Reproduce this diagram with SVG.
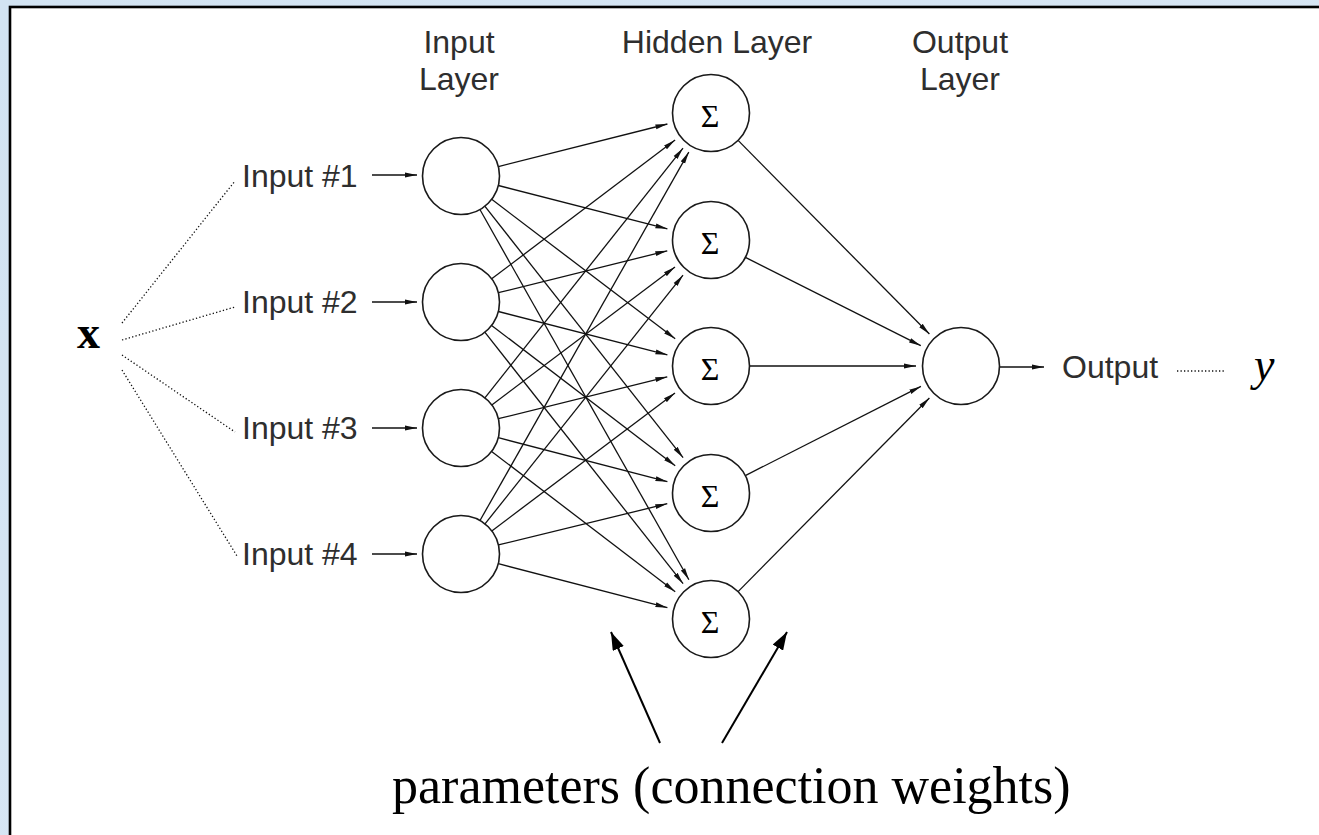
<svg xmlns="http://www.w3.org/2000/svg" width="1319" height="835" viewBox="0 0 1319 835">
  <defs>
    <linearGradient id="bg" x1="0" y1="0" x2="1" y2="1">
      <stop offset="0" stop-color="#d2e3f2"/>
      <stop offset="1" stop-color="#dbe8f5"/>
    </linearGradient>
    <!-- small arrowhead used on every network connection -->
    <marker id="tip" markerUnits="userSpaceOnUse" viewBox="0 0 12 6" markerWidth="12" markerHeight="6" refX="12" refY="3" orient="auto">
      <path d="M0,0.6 L12,3 L0,5.4 z" fill="#111"/>
    </marker>
    <!-- larger arrowhead for the callout arrows -->
    <marker id="bigtip" markerUnits="userSpaceOnUse" viewBox="0 0 18 12" markerWidth="18" markerHeight="12" refX="18" refY="6" orient="auto">
      <path d="M0,0 L18,6 L0,12 z" fill="#000"/>
    </marker>
  </defs>
  <style>
    .sans { font-family: "Liberation Sans", Arial, sans-serif; font-size: 32px; fill: #2e2e2e; }
    .serif { font-family: "Liberation Serif", "Times New Roman", serif; fill: #000; }
    .node { fill: #fff; stroke: #1a1a1a; stroke-width: 1.6; }
    .link { stroke: #111; stroke-width: 1.3; fill: none; marker-end: url(#tip); }
    .dots { stroke: #111; stroke-width: 1.3; stroke-dasharray: 1.3 2.2; fill: none; }
    .callout { stroke: #000; stroke-width: 2; marker-end: url(#bigtip); }
    .sigma { font-family: "Liberation Serif", "Times New Roman", serif; font-size: 32px; fill: #000; text-anchor: middle; }
  </style>

  <!-- page background and framed panel -->
  <rect x="0" y="0" width="1319" height="835" fill="url(#bg)"/>
  <rect x="10" y="7" width="1320" height="840" fill="#fff" stroke="#000" stroke-width="2.6"/>

  <!-- layer titles -->
  <g id="titles" class="sans" text-anchor="middle">
    <text x="459" y="53">Input</text>
    <text x="459" y="90">Layer</text>
    <text x="717" y="53">Hidden Layer</text>
    <text x="960" y="53">Output</text>
    <text x="960" y="90">Layer</text>
  </g>

  <!-- connectors -->
  <g id="connectors">
    <!-- x to the four inputs -->
    <line class="dots" x1="122" y1="323" x2="235" y2="181"/>
    <line class="dots" x1="122" y1="340" x2="235" y2="307"/>
    <line class="dots" x1="122" y1="355" x2="235" y2="432"/>
    <line class="dots" x1="122" y1="370" x2="237" y2="556"/>
    <!-- input labels to input nodes -->
    <line class="link" x1="372" y1="175" x2="417" y2="175"/>
    <line class="link" x1="372" y1="302" x2="417" y2="302"/>
    <line class="link" x1="372" y1="428" x2="417" y2="428"/>
    <line class="link" x1="372" y1="554" x2="417" y2="554"/>
    <!-- input layer to hidden layer -->
    <line class="link" x1="498.3" y1="166.6" x2="667.4" y2="124.0"/>
    <line class="link" x1="498.3" y1="185.5" x2="667.4" y2="228.8"/>
    <line class="link" x1="491.7" y1="199.3" x2="675.2" y2="338.8"/>
    <line class="link" x1="484.8" y1="206.2" x2="683.1" y2="457.7"/>
    <line class="link" x1="479.9" y1="209.5" x2="688.9" y2="579.8"/>

    <line class="link" x1="491.7" y1="278.8" x2="675.1" y2="140.1"/>
    <line class="link" x1="498.4" y1="292.7" x2="667.3" y2="250.8"/>
    <line class="link" x1="498.3" y1="311.5" x2="667.4" y2="354.8"/>
    <line class="link" x1="491.6" y1="325.4" x2="675.2" y2="465.7"/>
    <line class="link" x1="484.8" y1="332.2" x2="683.1" y2="583.7"/>

    <line class="link" x1="484.9" y1="397.8" x2="683.0" y2="148.2"/>
    <line class="link" x1="491.8" y1="404.9" x2="675.0" y2="267.0"/>
    <line class="link" x1="498.4" y1="418.7" x2="667.3" y2="376.8"/>
    <line class="link" x1="498.3" y1="437.7" x2="667.4" y2="481.7"/>
    <line class="link" x1="491.6" y1="451.4" x2="675.2" y2="591.7"/>

    <line class="link" x1="480.0" y1="520.5" x2="688.8" y2="152.1"/>
    <line class="link" x1="485.0" y1="523.9" x2="683.0" y2="275.2"/>
    <line class="link" x1="491.8" y1="530.9" x2="675.0" y2="393.0"/>
    <line class="link" x1="498.4" y1="544.9" x2="667.3" y2="503.7"/>
    <line class="link" x1="498.3" y1="563.7" x2="667.4" y2="607.7"/>
    <!-- hidden layer to output node -->
    <line class="link" x1="738.1" y1="140.4" x2="929.4" y2="334.0"/>
    <line class="link" x1="745.4" y1="257.3" x2="920.8" y2="345.7"/>
    <line class="link" x1="749.5" y1="366" x2="916" y2="366"/>
    <line class="link" x1="745.3" y1="475.6" x2="920.9" y2="386.4"/>
    <line class="link" x1="738.1" y1="591.6" x2="929.4" y2="398.0"/>
    <!-- output node to label, label to y -->
    <line class="link" x1="999.5" y1="367" x2="1044" y2="367"/>
    <line class="dots" x1="1177" y1="371" x2="1224" y2="371"/>
    <!-- callout arrows pointing at the weights -->
    <line class="callout" x1="660" y1="743" x2="611" y2="632"/>
    <line class="callout" x1="722" y1="743" x2="787" y2="632"/>
  </g>

  <!-- vector symbol x -->
  <g id="x-vector">
    <text class="serif" x="77" y="348" font-size="46" font-weight="bold">x</text>
  </g>

  <!-- input nodes -->
  <g id="input-1">
    <text class="sans" x="242" y="187">Input #1</text>
    <circle class="node" cx="461" cy="176" r="38.5"/>
  </g>
  <g id="input-2">
    <text class="sans" x="242" y="313">Input #2</text>
    <circle class="node" cx="461" cy="302" r="38.5"/>
  </g>
  <g id="input-3">
    <text class="sans" x="242" y="439">Input #3</text>
    <circle class="node" cx="461" cy="428" r="38.5"/>
  </g>
  <g id="input-4">
    <text class="sans" x="242" y="565">Input #4</text>
    <circle class="node" cx="461" cy="554" r="38.5"/>
  </g>

  <!-- hidden nodes -->
  <g id="hidden-1">
    <circle class="node" cx="711" cy="113" r="38.5"/>
    <text class="sigma" x="710" y="127">Σ</text>
  </g>
  <g id="hidden-2">
    <circle class="node" cx="711" cy="240" r="38.5"/>
    <text class="sigma" x="710" y="254">Σ</text>
  </g>
  <g id="hidden-3">
    <circle class="node" cx="711" cy="366" r="38.5"/>
    <text class="sigma" x="710" y="380">Σ</text>
  </g>
  <g id="hidden-4">
    <circle class="node" cx="711" cy="493" r="38.5"/>
    <text class="sigma" x="710" y="507">Σ</text>
  </g>
  <g id="hidden-5">
    <circle class="node" cx="711" cy="619" r="38.5"/>
    <text class="sigma" x="710" y="633">Σ</text>
  </g>

  <!-- output node -->
  <g id="output">
    <circle class="node" cx="961" cy="366" r="38.5"/>
    <text class="sans" x="1062" y="378">Output</text>
  </g>

  <!-- scalar output y -->
  <g id="y-output">
    <text class="serif" x="1254" y="380" font-size="46" font-style="italic">y</text>
  </g>

  <!-- caption -->
  <g id="caption">
    <text class="serif" x="392" y="803" font-size="52">parameters (connection weights)</text>
  </g>
</svg>
